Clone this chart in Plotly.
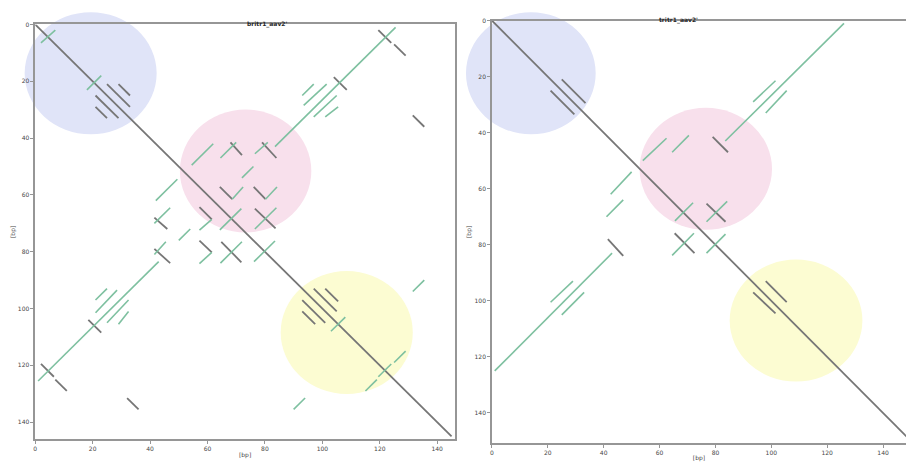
import plotly.graph_objects as go

# Self dot plots of two ITR sequences. Each match is a segment (x0, y0, x1, y1) in bp.
# "direct" = forward matches (grey), "inverted" = reverse-complement matches (green).
LEFT_DIRECT = [
    (0, 0, 145, 145),
    (25, 21, 33, 29), (29, 21, 33, 25), (21, 25, 29, 33), (21, 29, 25, 33),
    (119.5, 2, 124, 6.5), (125, 7, 129, 11), (2, 119.5, 6.5, 124), (7, 125, 11, 129),
    (104, 18.5, 108.5, 23), (18.5, 104, 23, 108.5),
    (131.5, 32, 135.5, 36), (32, 131.5, 36, 135.5),
    (68, 41.5, 72, 46), (41.5, 68, 46, 72),
    (79, 41.5, 84, 47), (41.5, 79, 47, 84),
    (64.3, 57.2, 68.6, 61.5), (76.1, 57.2, 80.2, 61.5),
    (57.2, 64.3, 61.5, 68.6), (57.2, 76.1, 61.5, 80.2),
    (76.5, 64.8, 83.7, 71.8), (64.8, 76.5, 71.8, 83.7),
    (97, 93, 105, 101), (101, 93, 105.5, 97.5), (93, 97, 101, 105), (93, 101, 97.5, 105.5),
]
LEFT_INVERTED = [
    (2, 6.5, 7, 2), (18, 23, 23, 18),
    (1, 125.5, 43, 83.5), (83.5, 43, 125.5, 1),
    (93, 25, 97, 21), (93.5, 28.5, 101.5, 21), (97, 32.5, 105, 25), (101, 32.5, 105.5, 29),
    (21, 97, 25, 93), (21, 101.5, 28.5, 93.5), (25, 105, 32.5, 97), (29, 105.5, 32.5, 101),
    (54.5, 49.5, 62, 42), (42, 62, 49.5, 54.5),
    (64.5, 47, 70, 41.5), (41.5, 70, 47, 64.5),
    (76.5, 45.5, 81, 41.5), (41.5, 81, 45.5, 76.5),
    (72, 54, 76, 50), (50, 76, 54, 72),
    (68.6, 61.5, 72.4, 57.2), (80.2, 61.5, 84.2, 57.2),
    (61.5, 68.6, 57.2, 72.4), (61.5, 80.2, 57.2, 84.2),
    (64.3, 72.3, 71.8, 64.8),
    (76.5, 72, 84, 64.5), (64.5, 84, 72, 76.5),
    (76.2, 83.5, 83.5, 76.2),
    (103, 108, 108, 103),
    (115, 129, 119, 125), (119.5, 124, 124, 119.5), (125, 119, 129, 115),
    (131.5, 94, 135.5, 90), (90, 135.5, 94, 131.5),
]
RIGHT_DIRECT = [
    (0, 0, 150, 150),
    (25, 21, 33.5, 29.5), (21, 25, 29.5, 33.5),
    (79, 41.5, 84.5, 47), (41.5, 78, 47, 84),
    (76.8, 65.3, 83.6, 71.8), (65.4, 75.9, 72.5, 83),
    (98, 93, 105.5, 100.5), (93.5, 97, 101.5, 104.5),
]
RIGHT_INVERTED = [
    (1, 125, 43, 83), (83.5, 43, 126, 1),
    (93.5, 29, 101.5, 21.5), (98, 33, 105.5, 25),
    (21, 100.5, 29, 93), (25, 105, 33, 97),
    (54, 50, 62.5, 42), (42.5, 62, 50, 54),
    (64.5, 47, 70.5, 41), (41, 70, 47, 64),
    (65.5, 71.5, 72, 65),
    (76.8, 71.8, 84.2, 64.5), (64.5, 83.8, 72.3, 75.9),
    (76.8, 83, 83.6, 76.2),
]
TICKS = [0, 20, 40, 60, 80, 100, 120, 140]
TITLES = ["britr1_aav2'", "tritr1_aav2'"]
AXIS_LABEL = "[bp]"

W, H = 906, 462
GREY = "rgb(118,118,118)"
GREEN = "rgb(126,192,160)"
SPINE = "rgb(150,150,150)"
TXT = "rgb(70,70,70)"
FONT = "DejaVu Sans"


def px(x):
    return x / W


def py(y):
    return 1 - y / H


def seg_xy(segs):
    xs, ys = [], []
    for x0, y0, x1, y1 in segs:
        xs += [x0, x1, None]
        ys += [y0, y1, None]
    return xs, ys


fig = go.Figure()
for segs, color, width, xa, ya in [
    (LEFT_DIRECT, GREY, 1.8, "x", "y"),
    (LEFT_INVERTED, GREEN, 1.6, "x", "y"),
    (RIGHT_DIRECT, GREY, 1.8, "x2", "y2"),
    (RIGHT_INVERTED, GREEN, 1.6, "x2", "y2"),
]:
    xs, ys = seg_xy(segs)
    fig.add_trace(go.Scatter(x=xs, y=ys, mode="lines", xaxis=xa, yaxis=ya,
                             line=dict(color=color, width=width),
                             hoverinfo="skip", showlegend=False))

# highlighted regions (pixel boxes of the ellipses)
regions = [
    ((22.7, 8.3, 155, 131.7), "rgb(224,228,248)"),
    ((178.3, 106.7, 310, 231), "rgb(248,224,236)"),
    ((279.3, 270, 411.7, 394.3), "rgb(252,252,210)"),
    ((465, 8.3, 595, 131.7), "rgb(224,228,248)"),
    ((639, 105, 771.7, 228.3), "rgb(248,224,236)"),
    ((729.3, 258.3, 862.3, 381.7), "rgb(252,252,210)"),
]
for (x0, y0, x1, y1), col in regions:
    fig.add_shape(type="circle", xref="paper", yref="paper",
                  x0=px(x0), x1=px(x1), y0=py(y1), y1=py(y0),
                  fillcolor=col, line=dict(width=0), layer="below")

tickfont = dict(family=FONT, size=6, color=TXT)
common = dict(tickmode="array", tickvals=TICKS, ticks="outside", ticklen=3,
              tickcolor=SPINE, tickfont=tickfont, showgrid=False, zeroline=False,
              showline=True, linecolor=SPINE, linewidth=1.5,
              title=dict(text=AXIS_LABEL, font=dict(family=FONT, size=6, color=TXT), standoff=2))

fig.update_layout(
    width=W, height=H, margin=dict(l=0, r=0, t=0, b=0),
    paper_bgcolor="white", plot_bgcolor="rgba(0,0,0,0)",
    xaxis=dict(domain=[px(33.3), px(454)], range=[0, 146.2], anchor="y", mirror=True, **common),
    yaxis=dict(domain=[py(440), py(20.7)], range=[146, 0], anchor="x", mirror=True, **common),
    xaxis2=dict(domain=[px(491), 1.0], range=[0, 148.2], anchor="y2", mirror=True, **common),
    yaxis2=dict(domain=[py(444), py(16.7)], range=[150.8, 0], anchor="x2", mirror=False, **common),
)

for cx, cy, text in [(243.5, 14, TITLES[0]), (700, 10.5, TITLES[1])]:
    fig.add_annotation(x=px(cx), y=py(cy), xref="paper", yref="paper", text="<b>%s</b>" % text,
                       showarrow=False, font=dict(family=FONT, size=6, color="rgb(40,40,40)"))

fig.write_html("out.html")
